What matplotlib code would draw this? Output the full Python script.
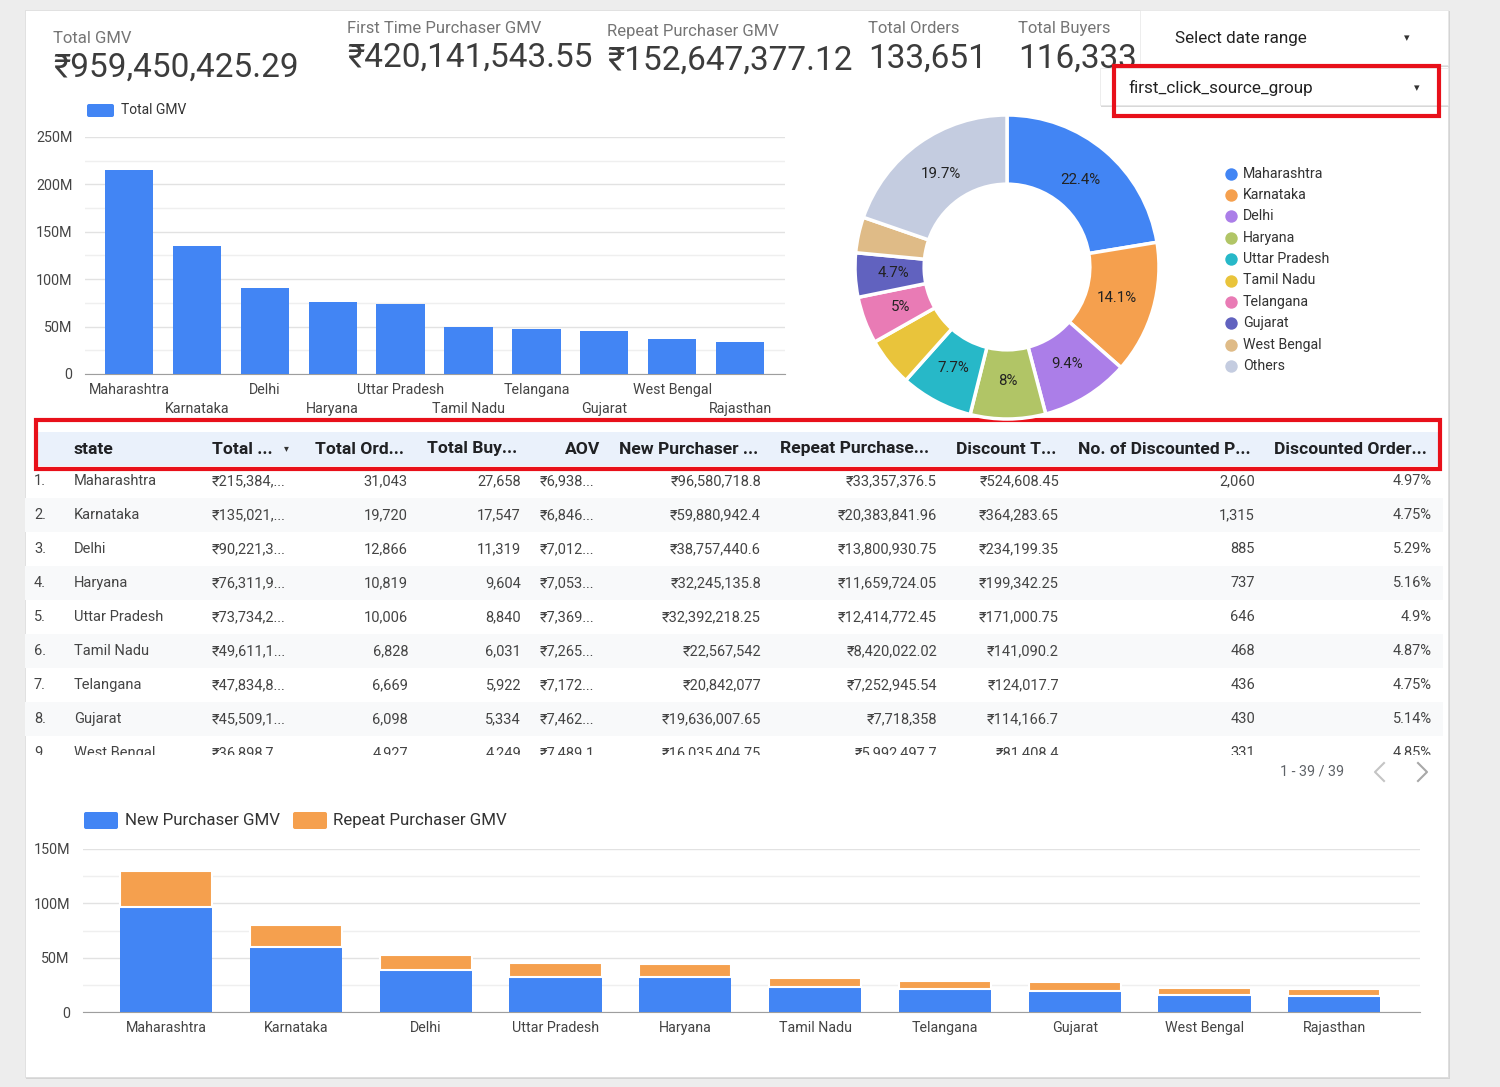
import numpy as np
import matplotlib
matplotlib.use("Agg")
import matplotlib.pyplot as plt
from matplotlib.patches import Rectangle, FancyBboxPatch
from matplotlib.transforms import Bbox, TransformedBbox
from matplotlib.ticker import FuncFormatter, MultipleLocator

FONT = ['Roboto', 'DejaVu Sans']
plt.rcParams['font.family'] = FONT

W, H = 1500, 1087

# ---------------- data ----------------
kpi_labels = ["Total GMV", "First Time Purchaser GMV", "Repeat Purchaser GMV",
              "Total Orders", "Total Buyers"]
kpi_values = ["₹959,450,425.29", "₹420,141,543.55", "₹152,647,377.12",
              "133,651", "116,333"]

gmv_states = ["Maharashtra", "Karnataka", "Delhi", "Haryana", "Uttar Pradesh",
              "Tamil Nadu", "Telangana", "Gujarat", "West Bengal", "Rajasthan"]
gmv_values = [215.38, 135.02, 90.22, 76.31, 73.73, 49.61, 47.83, 45.51, 36.90, 33.8]  # millions

pie_names = ["Maharashtra", "Karnataka", "Delhi", "Haryana", "Uttar Pradesh",
             "Tamil Nadu", "Telangana", "Gujarat", "West Bengal", "Others"]
pie_values = [22.4, 14.1, 9.4, 8.0, 7.7, 5.2, 5.0, 4.7, 3.8, 19.7]
pie_text = ["22.4%", "14.1%", "9.4%", "8%", "7.7%", "", "5%", "4.7%", "", "19.7%"]
pie_colors = ["#4285f4", "#f5a04e", "#ab7ee8", "#b1c566", "#27b8c8",
              "#e9c43b", "#e97bb5", "#6162bf", "#dfbb87", "#c4cce0"]

table_headers = ["state", "Total ...", "Total Ord...", "Total Buy...", "AOV",
                 "New Purchaser ...", "Repeat Purchase...", "Discount T...",
                 "No. of Discounted P...", "Discounted Order..."]
table_rows = [
    ["Maharashtra", "₹215,384,...", "31,043", "27,658", "₹6,938...", "₹96,580,718.8", "₹33,357,376.5", "₹524,608.45", "2,060", "4.97%"],
    ["Karnataka", "₹135,021,...", "19,720", "17,547", "₹6,846...", "₹59,880,942.4", "₹20,383,841.96", "₹364,283.65", "1,315", "4.75%"],
    ["Delhi", "₹90,221,3...", "12,866", "11,319", "₹7,012...", "₹38,757,440.6", "₹13,800,930.75", "₹234,199.35", "885", "5.29%"],
    ["Haryana", "₹76,311,9...", "10,819", "9,604", "₹7,053...", "₹32,245,135.8", "₹11,659,724.05", "₹199,342.25", "737", "5.16%"],
    ["Uttar Pradesh", "₹73,734,2...", "10,006", "8,840", "₹7,369...", "₹32,392,218.25", "₹12,414,772.45", "₹171,000.75", "646", "4.9%"],
    ["Tamil Nadu", "₹49,611,1...", "6,828", "6,031", "₹7,265...", "₹22,567,542", "₹8,420,022.02", "₹141,090.2", "468", "4.87%"],
    ["Telangana", "₹47,834,8...", "6,669", "5,922", "₹7,172...", "₹20,842,077", "₹7,252,945.54", "₹124,017.7", "436", "4.75%"],
    ["Gujarat", "₹45,509,1...", "6,098", "5,334", "₹7,462...", "₹19,636,007.65", "₹7,718,358", "₹114,166.7", "430", "5.14%"],
    ["West Bengal", "₹36,898,7...", "4,927", "4,249", "₹7,489.1", "₹16,035,404.75", "₹5,992,497.7", "₹81,408.4", "331", "4.85%"],
]
pagination = "1 - 39 / 39"

stack_states = ["Maharashtra", "Karnataka", "Delhi", "Uttar Pradesh", "Haryana",
                "Tamil Nadu", "Telangana", "Gujarat", "West Bengal", "Rajasthan"]
new_gmv = [96.58, 59.88, 38.76, 32.39, 32.25, 22.57, 20.84, 19.64, 16.04, 15.0]
repeat_gmv = [33.36, 20.38, 13.80, 12.41, 11.66, 8.42, 7.25, 7.72, 5.99, 6.2]

BLUE = "#4285f4"
ORANGE = "#f5a04e"
RED = "#e8101a"

# ---------------- figure ----------------
fig = plt.figure(figsize=(15, 10.87), dpi=100)
fig.patch.set_facecolor('#ededed')
bg = fig.add_axes([0, 0, 1, 1])
bg.set_xlim(0, W)
bg.set_ylim(H, 0)
bg.axis('off')


def px(x0, y0, x1, y1):
    return [x0 / W, 1 - y1 / H, (x1 - x0) / W, (y1 - y0) / H]


# card
bg.add_patch(Rectangle((26, 11), 1424, 1068, fc='#d4d4d4', ec='none', zorder=0))
bg.add_patch(Rectangle((25, 10), 1423, 1067, fc='white', ec='#dddddd', lw=0.6, zorder=0.5))

# KPIs
kpi_x = [53, 347, 607, 868, 1018]
kpi_lab_y = [43, 33, 36, 33, 33]
kpi_val_y = [77, 67, 70, 68, 68]
for xx, ly, vy, lab, val in zip(kpi_x, kpi_lab_y, kpi_val_y, kpi_labels, kpi_values):
    bg.text(xx, ly, lab, fontsize=12, color='#757575', va='baseline', ha='left', zorder=2)
    bg.text(xx, vy, val, fontsize=24, color='#3c3c3c', va='baseline', ha='left', zorder=2)

# date range control
bg.add_patch(Rectangle((1141, 11), 308, 56, fc='#d8d8d8', ec='none', zorder=3))
bg.add_patch(Rectangle((1140, 10), 308, 55, fc='white', ec='#e6e6e6', lw=0.5, zorder=3.1))
bg.text(1175, 38, "Select date range", fontsize=12.3, color='#222222', va='center', zorder=4)
bg.text(1407, 38, "▾", fontsize=8, color='#333333', va='center', ha='center', zorder=4)
# dimension control
bg.add_patch(Rectangle((1101, 69), 348, 38, fc='#d8d8d8', ec='none', zorder=3))
bg.add_patch(Rectangle((1100, 68), 348, 37, fc='white', ec='#e6e6e6', lw=0.5, zorder=3.1))
bg.text(1128, 88, "first_click_source_group", fontsize=12.3, color='#222222', va='center', zorder=4)
bg.text(1417, 88, "▾", fontsize=8, color='#333333', va='center', ha='center', zorder=4)
bg.add_patch(Rectangle((1114, 66), 325, 50, fc='none', ec=RED, lw=3, zorder=5))

# ---------------- top bar chart ----------------
bg.add_patch(FancyBboxPatch((87, 104), 27, 13, boxstyle='round,pad=0,rounding_size=2',
                            fc=BLUE, ec='none', zorder=2))
bg.text(121, 110.5, "Total GMV", fontsize=10, color='#333333', va='center', zorder=2)

ax1 = fig.add_axes(px(85, 137, 785, 374))
x = np.arange(len(gmv_states))
ax1.bar(x, gmv_values, width=0.71, color=BLUE, zorder=3)
ax1.set_xlim(-0.647, 9.66)
ax1.set_ylim(0, 250)
ax1.yaxis.set_major_locator(MultipleLocator(50))
ax1.yaxis.set_minor_locator(MultipleLocator(25))
ax1.yaxis.set_major_formatter(FuncFormatter(lambda v, p: '0' if v == 0 else f'{v:.0f}M'))
ax1.grid(axis='y', which='major', color='#e2e2e2', lw=1)
ax1.grid(axis='y', which='minor', color='#efefef', lw=1)
ax1.set_axisbelow(True)
ax1.tick_params(axis='y', which='both', length=0, pad=9, labelsize=10.3, labelcolor='#444444')
ax1.set_xticks(x[0::2], gmv_states[0::2])
ax1.set_xticks(x[1::2], gmv_states[1::2], minor=True)
ax1.tick_params(axis='x', which='major', length=0, pad=6.5, labelsize=10.3, labelcolor='#444444')
ax1.tick_params(axis='x', which='minor', length=0, pad=20.5, labelsize=10.3, labelcolor='#444444')
for s in ['top', 'right', 'left']:
    ax1.spines[s].set_visible(False)
ax1.spines['bottom'].set_color('#9e9e9e')
ax1.patch.set_visible(False)

# ---------------- donut ----------------
cx, cy, R = 1007, 267, 152
axp = fig.add_axes(px(cx - R, cy - R, cx + R, cy + R))
axp.patch.set_visible(False)
wedges, _ = axp.pie(pie_values, colors=pie_colors, startangle=90, counterclock=False,
                    radius=1, wedgeprops=dict(width=0.455, edgecolor='white', linewidth=2.5))
for w, t in zip(wedges, pie_text):
    if not t:
        continue
    ang = np.deg2rad((w.theta1 + w.theta2) / 2)
    axp.text(0.75 * np.cos(ang), 0.75 * np.sin(ang), t, ha='center', va='center',
             fontsize=10.8, color='#222222')
axp.set_xlim(-1, 1)
axp.set_ylim(-1, 1)
axp.set_aspect('equal')
axp.axis('off')

for i, (name, col) in enumerate(zip(pie_names, pie_colors)):
    yy = 173.5 + i * 21.4
    bg.scatter([1231], [yy], s=80, color=col, zorder=2, linewidths=0)
    bg.text(1243, yy, name, fontsize=10.2, color='#333333', va='center', zorder=2)

# ---------------- table ----------------
bg.add_patch(Rectangle((36, 432), 1404, 34, fc='#eaf1fb', ec='none', zorder=1))
hdr_x = [74, 212, 315, 427, 600, 619, 780, 956, 1078, 1274]
hdr_ha = ['left', 'left', 'left', 'left', 'right', 'left', 'left', 'left', 'left', 'left']
for xx, ha, h in zip(hdr_x, hdr_ha, table_headers):
    bg.text(xx, 449, h, fontsize=12.6, fontweight='bold', color='#202124', ha=ha, va='center', zorder=2)
bg.text(286, 448, "▾", fontsize=7, color='#333333', ha='center', va='center', zorder=2)

col_x = [74, 212, 408, 521, 540, 761, 937, 1059, 1255, 1432]
col_ha = ['left', 'left', 'right', 'right', 'left', 'right', 'right', 'right', 'right', 'right']
clip = TransformedBbox(Bbox([[0, 467], [W, 755]]), bg.transData)
for i, row in enumerate(table_rows):
    yy = 481 + 34 * i
    if i % 2 == 1:
        bg.add_patch(Rectangle((25, yy - 17), 1418, 34, fc='#f8f9fa', ec='none', zorder=1))
    t = bg.text(34, yy, f"{i + 1}.", fontsize=10.5, color='#444444', va='center', zorder=2)
    t.set_clip_on(True); t.set_clip_box(clip)
    for xx, ha, val in zip(col_x, col_ha, row):
        t = bg.text(xx, yy, val, fontsize=10.5, color='#444444', ha=ha, va='center', zorder=2)
        t.set_clip_on(True); t.set_clip_box(clip)

bg.add_patch(Rectangle((36, 420), 1404, 49, fc='none', ec=RED, lw=3, zorder=5))

bg.text(1344, 772, pagination, fontsize=10.3, color='#5f6368', ha='right', va='center', zorder=2)
bg.plot([1384, 1375, 1384], [763, 772, 781], color='#c4c4c4', lw=1.5, zorder=2)
bg.plot([1418, 1427, 1418], [763, 772, 781], color='#a8a8a8', lw=1.5, zorder=2)

# ---------------- bottom stacked chart ----------------
bg.add_patch(FancyBboxPatch((84, 812), 34, 17, boxstyle='round,pad=0,rounding_size=2',
                            fc=BLUE, ec='none', zorder=2))
bg.text(125, 820.5, "New Purchaser GMV", fontsize=12.2, color='#333333', va='center', zorder=2)
bg.add_patch(FancyBboxPatch((293, 812), 34, 17, boxstyle='round,pad=0,rounding_size=2',
                            fc=ORANGE, ec='none', zorder=2))
bg.text(333, 820.5, "Repeat Purchaser GMV", fontsize=12.2, color='#333333', va='center', zorder=2)

ax2 = fig.add_axes(px(83, 849, 1420, 1012))
x2 = np.arange(len(stack_states))
ax2.bar(x2, new_gmv, width=0.71, color=BLUE, zorder=3)
ax2.bar(x2, repeat_gmv, bottom=new_gmv, width=0.71, color=ORANGE, edgecolor='white',
        linewidth=1.5, zorder=3)
ax2.set_xlim(-0.64, 9.66)
ax2.set_ylim(0, 150)
ax2.yaxis.set_major_locator(MultipleLocator(50))
ax2.yaxis.set_minor_locator(MultipleLocator(25))
ax2.yaxis.set_major_formatter(FuncFormatter(lambda v, p: '0' if v == 0 else f'{v:.0f}M'))
ax2.grid(axis='y', which='major', color='#e2e2e2', lw=1)
ax2.grid(axis='y', which='minor', color='#efefef', lw=1)
ax2.set_axisbelow(True)
ax2.tick_params(axis='y', which='both', length=0, pad=9.5, labelsize=10.3, labelcolor='#444444')
ax2.set_xticks(x2, stack_states)
ax2.tick_params(axis='x', length=0, pad=6.5, labelsize=10.3, labelcolor='#444444')
for s in ['top', 'right', 'left']:
    ax2.spines[s].set_visible(False)
ax2.spines['bottom'].set_color('#9e9e9e')
ax2.patch.set_visible(False)

fig.savefig("out.png", dpi=100, facecolor=fig.get_facecolor())
